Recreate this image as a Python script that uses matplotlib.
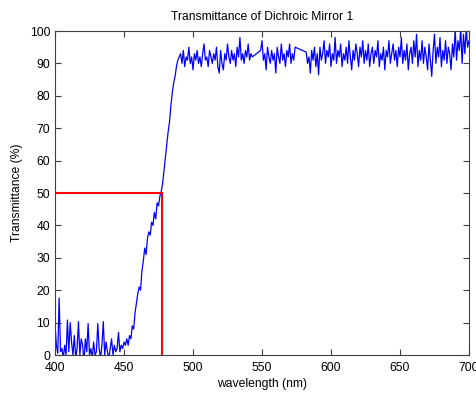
import numpy as np
import matplotlib
matplotlib.use("Agg")
import matplotlib.pyplot as plt

plt.rcParams['font.family'] = ['Liberation Sans', 'DejaVu Sans']

# measured transmittance (%), 1 nm steps; the spectrum has two short gaps
# (544-548 nm and 575-581 nm) that the plot bridges with a straight line
start_a = 400
trans_a = [9.5, 3, 0.5, 17.6, 1, 2, -1, 3, 0, 10.8,
           1, 10, 4, 0, 6, -1, 2, 10.3, 0, 5,
           3, -2, 5, 1, 9.7, 0, 2, -1, 4, 0,
           1, 9.7, 2, -1, 3, 10.3, 0, 4, 1, -1,
           2, 5, 0, 3, 1, 2, 7, 1, 3, 2,
           4, 3, 5, 3, 6, 5, 9, 8, 13, 16,
           19, 21, 20, 26, 29, 33, 31, 36, 38, 37,
           41, 40, 44, 42, 47, 46, 49, 50.5, 53, 57,
           61, 65, 69, 72, 77, 81, 84, 86, 89, 91,
           92, 93, 90, 94, 89, 92, 91, 95, 90, 92,
           88, 93, 91, 94, 90, 92, 89, 93, 96, 91,
           92, 89, 94, 92, 90, 93, 91, 95, 89, 87,
           94, 90, 88, 93, 91, 96, 92, 90, 94, 91,
           93, 89, 95, 92, 98, 91, 93, 90, 94, 92,
           96, 91, 93, 92]

start_b = 549
trans_b = [94, 97, 91, 93, 88, 95, 92, 90, 94, 91,
           93, 87, 95, 92, 90, 96, 91, 93, 89, 94,
           92, 96, 90, 93, 91, 95]

start_c = 582
trans_c = [93.5, 90, 92, 87, 94, 91, 95, 89, 93, 86.5,
           95, 91, 93, 97, 90, 94, 92, 96, 89, 93,
           91, 98, 90, 94, 92, 96, 89, 93, 91, 95,
           90, 97, 92, 88, 94, 91, 96, 93, 89, 95,
           92, 97, 90, 94, 91, 96, 89, 93, 95, 90,
           94, 92, 97, 89, 93, 91, 95, 88, 94, 92,
           97, 90, 93, 96, 91, 94, 89, 95, 92, 98,
           90, 94, 91, 96, 88, 93, 95, 90, 97, 92,
           99, 89, 94, 91, 97, 90, 95, 92, 88, 96,
           91, 86, 94, 99, 90, 95, 92, 98, 89, 94,
           91, 97, 90, 95, 93, 88, 96, 92, 100.5, 91,
           97, 94, 101, 90, 99, 93, 101, 95, 97]

# 50 % cut-on point
cut_wl = 477.5
cut_t = 50

wl = np.concatenate([np.arange(start_a, start_a + len(trans_a)),
                     np.arange(start_b, start_b + len(trans_b)),
                     np.arange(start_c, start_c + len(trans_c))])
trans = np.array(trans_a + trans_b + trans_c)

fs = 8.7

fig = plt.figure(figsize=(4.77, 3.94), dpi=100)
ax = fig.add_axes([55 / 477, 39 / 394, 414 / 477, 324 / 394])

ax.plot(wl, trans, color='#0000ff', linewidth=0.9)
ax.plot([400, cut_wl], [cut_t, cut_t], color='#ff0000', linewidth=1.5)
ax.plot([cut_wl, cut_wl], [0, cut_t], color='#ff0000', linewidth=1.5)

ax.set_xlim(400, 700)
ax.set_ylim(0, 100)
ax.set_xticks(np.arange(400, 701, 50))
ax.set_yticks(np.arange(0, 101, 10))
ax.tick_params(direction='in', length=4, width=0.8, labelsize=fs,
               top=True, right=True, colors='#404040', labelcolor='black')
ax.tick_params(axis='x', pad=5)
for sp in ax.spines.values():
    sp.set_color('#404040')
    sp.set_linewidth(0.8)

ax.set_title('Transmittance of Dichroic Mirror 1', fontsize=fs, pad=8)
ax.set_xlabel('wavelength (nm)', fontsize=fs, labelpad=3)
ax.set_ylabel('Transmittance (%)', fontsize=fs, labelpad=5)

fig.savefig('out.png', dpi=100)
